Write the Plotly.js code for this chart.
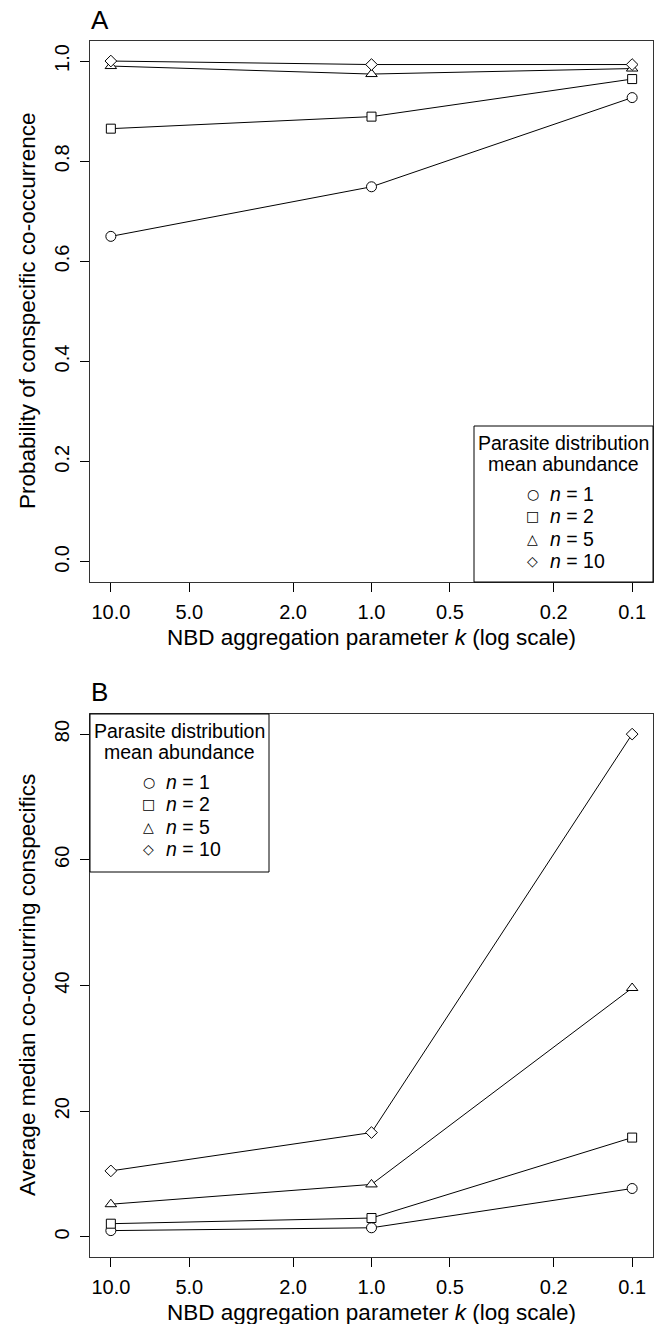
<!DOCTYPE html>
<html>
<head>
<meta charset="utf-8">
<script src="https://cdn.plot.ly/plotly-3.0.1.min.js"></script>
<style>html,body{margin:0;padding:0;background:#fff;}#chart{width:660px;height:1324px;}</style>
</head>
<body>
<div id="chart"></div>
<script>
// ---- data ----
const kValues = [10, 1, 0.1];
const xTickVals = [10, 5, 2, 1, 0.5, 0.2, 0.1];
const xTickText = ["10.0", "5.0", "2.0", "1.0", "0.5", "0.2", "0.1"];
const seriesNames = ["n = 1", "n = 2", "n = 5", "n = 10"];
const seriesLabels = ["<i>n</i> = 1", "<i>n</i> = 2", "<i>n</i> = 5", "<i>n</i> = 10"];
// Panel A: probability of conspecific co-occurrence
const probN1 = [0.650, 0.749, 0.927];
const probN2 = [0.865, 0.889, 0.964];
const probN5 = [0.990, 0.974, 0.985];
const probN10 = [1.000, 0.993, 0.993];
// Panel B: average median co-occurring conspecifics
const medN1 = [1.0, 1.45, 7.7];
const medN2 = [2.1, 3.0, 15.8];
const medN5 = [5.2, 8.35, 39.6];
const medN10 = [10.5, 16.6, 80.0];
const yTicksA = [0, 0.2, 0.4, 0.6, 0.8, 1.0];
const yTicksB = [0, 20, 40, 60, 80];

// ---- styling ----
const FONT = "Liberation Sans, Arial, Helvetica, sans-serif";
const symbols = ["circle", "square", "triangle-up", "diamond"];
const sizes = [10, 9, 10, 9];
const glyphs = ["\u25CB", "\u25A1", "\u25B3", "\u25C7"];
const W = 660, H = 1324;
const px = x => x / W;
const py = y => 1 - y / H;

function mkTrace(y, i, xa, ya) {
  return {
    x: kValues, y: y, type: "scatter", mode: "lines+markers",
    name: seriesNames[i], showlegend: false, xaxis: xa, yaxis: ya,
    line: {color: "#000", width: 1},
    marker: {symbol: symbols[i], size: sizes[i], color: "#fff", line: {color: "#000", width: 1}},
    hoverinfo: "x+y"
  };
}
const dataA = [probN1, probN2, probN5, probN10];
const dataB = [medN1, medN2, medN5, medN10];
const traces = [];
dataA.forEach((d, i) => traces.push(mkTrace(d, i, "x", "y")));
dataB.forEach((d, i) => traces.push(mkTrace(d, i, "x2", "y2")));

const xRange = [Math.log10(10) + 0.08, Math.log10(0.1) - 0.08];
const xDomain = [px(90), px(653)];
function xAxis(anchor) {
  return {
    type: "log", range: xRange, domain: xDomain, anchor: anchor,
    tickmode: "array", tickvals: xTickVals, ticktext: xTickText,
    ticks: "outside", ticklen: 9, tickwidth: 1, tickcolor: "#000",
    ticklabelstandoff: 3,
    showline: true, linecolor: "#333", linewidth: 1, mirror: true,
    showgrid: false, zeroline: false,
    tickfont: {family: FONT, size: 20, color: "#000"}
  };
}
function yAxis(anchor, domain, range, tickvals, fmt) {
  return {
    domain: domain, range: range, anchor: anchor,
    tickmode: "array", tickvals: tickvals, tickformat: fmt, tickangle: -90,
    ticks: "outside", ticklen: 9, tickwidth: 1, tickcolor: "#000",
    ticklabelstandoff: 3,
    showline: true, linecolor: "#333", linewidth: 1, mirror: true,
    showgrid: false, zeroline: false,
    tickfont: {family: FONT, size: 20, color: "#000"}
  };
}

const annotations = [];
const shapes = [];
function txt(x, y, text, size, opts) {
  annotations.push(Object.assign({
    xref: "paper", yref: "paper", x: px(x), y: py(y), text: text, showarrow: false,
    xanchor: "center", yanchor: "middle",
    font: {family: FONT, size: size, color: "#000"}
  }, opts || {}));
}
// panel letters
txt(89, 20, "A", 26, {xanchor: "left"});
txt(89, 692, "B", 26, {xanchor: "left"});
// axis titles
txt(371, 638, "NBD aggregation parameter <i>k</i> (log scale)", 22.5);
txt(371, 1312, "NBD aggregation parameter <i>k</i> (log scale)", 22.5);
txt(27, 311, "Probability of conspecific co-occurrence", 22.5, {textangle: -90});
txt(27, 985, "Average median co-occurring conspecifics", 22.5, {textangle: -90});

function legend(x0, x1, y0, y1) {
  shapes.push({type: "rect", xref: "paper", yref: "paper", x0: px(x0), x1: px(x1), y0: py(y1), y1: py(y0),
               line: {color: "#000", width: 1}, fillcolor: "#fff", layer: "above"});
  const cx = (x0 + x1) / 2;
  txt(cx, y0 + 17, "Parasite distribution", 19.5);
  txt(cx, y0 + 38, "mean abundance", 19.5);
  seriesLabels.forEach((lab, i) => {
    const yy = y0 + 68 + i * 22.3;
    txt(cx - 31, yy, glyphs[i], 14, {font: {family: "DejaVu Sans", size: 14, color: "#000"}});
    txt(cx - 16, yy, lab, 19.5, {xanchor: "left"});
  });
}
legend(474, 653, 426, 582);
legend(90, 269, 714, 872);

const layout = {
  width: W, height: H, margin: {l: 0, r: 0, t: 0, b: 0},
  paper_bgcolor: "#fff", plot_bgcolor: "#fff", showlegend: false,
  xaxis: xAxis("y"),
  yaxis: yAxis("x", [py(582), py(41)], [-0.04, 1.04], yTicksA, ".1f"),
  xaxis2: xAxis("y2"),
  yaxis2: yAxis("x2", [py(1257), py(714)], [-3.2, 83.2], yTicksB, "d"),
  annotations: annotations, shapes: shapes,
  font: {family: FONT, color: "#000"}
};
Plotly.newPlot("chart", traces, layout, {displayModeBar: false, staticPlot: true});
</script>
</body>
</html>
